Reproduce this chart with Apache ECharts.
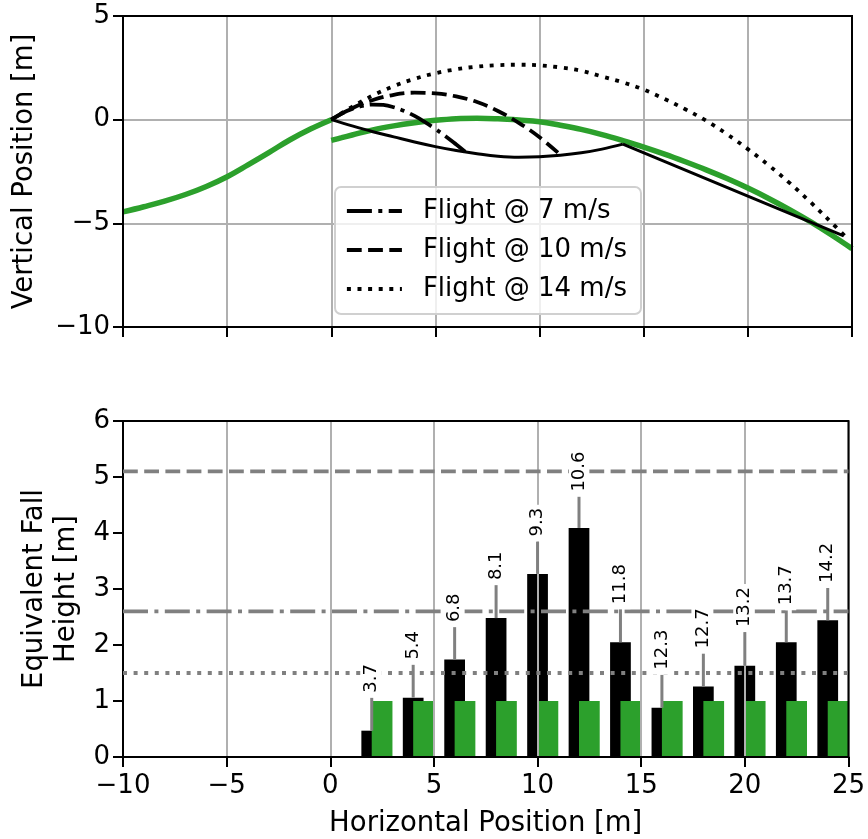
<!DOCTYPE html>
<html>
<head>
<meta charset="utf-8">
<title>fall height</title>
<style>
html, body { margin: 0; padding: 0; background: #fff; }
#chart { width: 868px; height: 839px; }
</style>
<script src="https://cdn.jsdelivr.net/npm/echarts@6/dist/echarts.min.js"></script>
</head>
<body>
<div id="chart"></div>
<script>
// terrain profile (green)
var takeoff = [[-10, -4.45], [-9, -4.2], [-8, -3.93], [-7, -3.61], [-6, -3.22], [-5, -2.75],
    [-4, -2.18], [-3, -1.59], [-2, -0.98], [-1, -0.45], [0, 0]];
var landing = [[0, -1.0], [0.5, -0.87], [1, -0.74], [2, -0.49], [3, -0.3], [4, -0.15], [5, -0.03],
    [6, 0.05], [7, 0.07], [8, 0.04], [9, -0.02], [10, -0.1], [11, -0.27], [12, -0.47], [13, -0.72],
    [14, -1.01], [15, -1.32], [16, -1.66], [17, -2.03], [18, -2.42], [19, -2.84], [20, -3.3],
    [21, -3.8], [22, -4.34], [23, -4.92], [24, -5.55], [25, -6.22]];
// knuckle curve + straight landing line (solid black)
var fallCurve = [[0, 0], [1, -0.3], [2, -0.58], [3, -0.83], [4, -1.08], [5, -1.3], [6, -1.49],
    [7, -1.64], [8, -1.76], [9, -1.81], [10, -1.79], [11, -1.72], [12, -1.6], [13, -1.42],
    [14, -1.18]];
var fallStraight = [[14, -1.18], [20, -3.69], [24.6, -5.6]];
// flight paths
var flight7 = [[0, 0], [0.5, 0.3], [1, 0.52], [1.5, 0.66], [2, 0.73], [2.5, 0.71], [3, 0.6],
    [3.5, 0.42], [4, 0.18], [4.5, -0.12], [5, -0.45], [5.5, -0.81], [6, -1.2], [6.55, -1.64]];
var flight10 = [[0, 0], [1, 0.55], [2, 0.95], [3, 1.2], [4, 1.3], [5, 1.27], [6, 1.12], [7, 0.85],
    [8, 0.42], [9, -0.15], [10, -0.85], [10.95, -1.65]];
var flight14 = [[0, 0], [1, 0.62], [2, 1.17], [3, 1.62], [4, 1.97], [5, 2.24], [6, 2.43], [7, 2.56],
    [8, 2.63], [9, 2.65], [10, 2.62], [11, 2.52], [12, 2.36], [13, 2.08], [14, 1.8], [15, 1.45],
    [16, 1.0], [17, 0.5], [18, -0.05], [19, -0.7], [20, -1.42], [21, -2.2], [22, -3.05],
    [23, -3.97], [24, -4.95], [24.65, -5.6]];
var flightNames = ['Flight @ 7 m/s', 'Flight @ 10 m/s', 'Flight @ 14 m/s'];

// bottom panel
var positions = [2, 4, 6, 8, 10, 12, 14, 16, 18, 20, 22, 24];
var fallHeight = [0.47, 1.06, 1.74, 2.48, 3.27, 4.09, 2.05, 0.88, 1.26, 1.63, 2.05, 2.44];
var fallHeightTop = [1.06, 1.65, 2.32, 3.07, 3.85, 4.65, 2.64, 1.47, 1.85, 2.23, 2.62, 3.02];
var speedLabels = ['3.7', '5.4', '6.8', '8.1', '9.3', '10.6', '11.8', '12.3', '12.7', '13.2', '13.7', '14.2'];
var safeHeight = [1, 1, 1, 1, 1, 1, 1, 1, 1, 1, 1, 1];
var refLevels = [5.1, 2.6, 1.5];

var FONT = 'DejaVu Sans';
var GRID_C = '#b0b0b0';
var GREY = '#808080';
var DASHED = [14.8, 6.4], DASHDOT = [25, 6.4, 4, 6.4], DOTTED = [4, 6.6];

function minus(v) { return v < 0 ? '\u2212' + (-v) : String(v); }

var blackBars = positions.map(function (x, i) { return [x, fallHeight[i]]; });
var greenBars = positions.map(function (x, i) { return [x, safeHeight[i]]; });
var errData = positions.map(function (x, i) { return [x, fallHeight[i], fallHeightTop[i], i]; });

function barRender(offset, color) {
    return function (params, api) {
        var x = api.value(0), h = api.value(1);
        var p0 = api.coord([x + offset, h]);
        var p1 = api.coord([x + offset + 1, 0]);
        return {
            type: 'rect',
            shape: { x: p0[0], y: p0[1], width: p1[0] - p0[0], height: p1[1] - p0[1] },
            style: { fill: color }
        };
    };
}

function refLine(v, dash) {
    return {
        type: 'line', xAxisIndex: 1, yAxisIndex: 1, z: 4, silent: true,
        data: [[-10, v], [25, v]], symbol: 'none',
        lineStyle: { color: GREY, width: 3.8, type: dash }
    };
}

function pathSeries(name, data, dash, width, color, z, smooth) {
    return {
        name: name, type: 'line', data: data, symbol: 'none', showSymbol: false, z: z,
        xAxisIndex: 0, yAxisIndex: 0, smooth: smooth,
        itemStyle: { color: color },
        lineStyle: { color: color, width: width, type: dash }
    };
}

function axisLine() { return { onZero: false, lineStyle: { color: '#000', width: 2 } }; }
function axisTick() { return { show: true, length: 10, lineStyle: { color: '#000', width: 2 } }; }
function tickLabel(fmt, margin) {
    return { fontFamily: FONT, fontSize: 26, color: '#000', margin: margin, formatter: fmt };
}

var chart = echarts.init(document.getElementById('chart'));
chart.setOption({
    animation: false,
    textStyle: { fontFamily: FONT },
    grid: [
        { left: 123, top: 16, width: 729, height: 311, show: true, z: 4, borderColor: '#000', borderWidth: 2, backgroundColor: 'transparent' },
        { left: 123, top: 421, width: 729, height: 336, show: true, z: 4, borderColor: '#000', borderWidth: 2, backgroundColor: 'transparent' }
    ],
    legend: {
        data: flightNames,
        orient: 'vertical',
        left: 335, top: 187,
        padding: [11, 14, 12, 10],
        itemGap: 13,
        itemWidth: 55, itemHeight: 20,
        itemStyle: { opacity: 0 },
        lineStyle: { width: 3.8 },
        backgroundColor: 'rgba(255,255,255,0.8)',
        borderColor: '#d0d0d0', borderWidth: 2, borderRadius: 6,
        textStyle: { fontFamily: FONT, fontSize: 26, color: '#000', padding: [0, 0, 0, 16] }
    },
    xAxis: [
        {
            type: 'value', gridIndex: 0, min: -10, max: 25, interval: 5,
            axisLine: axisLine(), axisTick: axisTick(),
            splitLine: { show: true, lineStyle: { color: GRID_C, width: 2 } },
            axisLabel: { show: false }
        },
        {
            type: 'value', gridIndex: 1, min: -10, max: 25, interval: 5, z: 3,
            axisLine: axisLine(), axisTick: axisTick(),
            splitLine: { show: true, lineStyle: { color: GRID_C, width: 2 } },
            axisLabel: tickLabel(minus, 16),
            name: 'Horizontal Position [m]', nameLocation: 'middle', nameGap: 53,
            nameTextStyle: { fontFamily: FONT, fontSize: 27.5, color: '#000' }
        }
    ],
    yAxis: [
        {
            type: 'value', gridIndex: 0, min: -10, max: 5, interval: 5,
            axisLine: axisLine(), axisTick: axisTick(),
            splitLine: { show: true, lineStyle: { color: GRID_C, width: 2 } },
            axisLabel: tickLabel(minus, 13),
            name: 'Vertical Position [m]', nameLocation: 'middle', nameGap: 84,
            nameTextStyle: { fontFamily: FONT, fontSize: 27.5, color: '#000' }
        },
        {
            type: 'value', gridIndex: 1, min: 0, max: 6, interval: 1,
            axisLine: axisLine(), axisTick: axisTick(),
            splitLine: { show: false },
            axisLabel: tickLabel(minus, 13),
            name: 'Equivalent Fall\nHeight [m]', nameLocation: 'middle', nameGap: 40,
            nameTextStyle: { fontFamily: FONT, fontSize: 27.5, color: '#000', lineHeight: 32, align: 'center' }
        }
    ],
    series: [
        pathSeries('terrain-a', takeoff, 'solid', 5.5, '#2ca02c', 2, 0.4),
        pathSeries('terrain-b', landing, 'solid', 5.5, '#2ca02c', 2, 0.4),
        pathSeries('fall-a', fallCurve, 'solid', 3, '#000', 3, 0.4),
        pathSeries('fall-b', fallStraight, 'solid', 3, '#000', 3, false),
        pathSeries(flightNames[0], flight7, DASHDOT, 3.8, '#000', 3, 0.4),
        pathSeries(flightNames[1], flight10, DASHED, 3.8, '#000', 3, 0.4),
        pathSeries(flightNames[2], flight14, DOTTED, 3.8, '#000', 3, 0.4),
        {
            type: 'custom', xAxisIndex: 1, yAxisIndex: 1, z: 2, silent: true,
            data: blackBars, renderItem: barRender(-0.5, '#000')
        },
        {
            type: 'custom', xAxisIndex: 1, yAxisIndex: 1, z: 2, silent: true,
            data: greenBars, renderItem: barRender(0, '#2ca02c')
        },
        refLine(refLevels[0], DASHED),
        refLine(refLevels[1], DASHDOT),
        refLine(refLevels[2], DOTTED),
        {
            type: 'custom', xAxisIndex: 1, yAxisIndex: 1, z: 5, silent: true,
            data: errData,
            renderItem: function (params, api) {
                var x = api.value(0);
                var p0 = api.coord([x, api.value(1)]);
                var p1 = api.coord([x, api.value(2)]);
                return {
                    type: 'group',
                    children: [
                        {
                            type: 'line',
                            shape: { x1: p0[0], y1: p0[1], x2: p1[0], y2: p1[1] },
                            style: { stroke: GREY, lineWidth: 3 }
                        },
                        {
                            type: 'text',
                            x: p1[0], y: p1[1], rotation: Math.PI / 2,
                            style: {
                                text: speedLabels[api.value(3)],
                                fontFamily: FONT, fontSize: 18, fill: '#000',
                                align: 'left', verticalAlign: 'middle',
                                backgroundColor: '#fff', padding: [1, 3, 1, 5]
                            }
                        }
                    ]
                };
            }
        }
    ]
});
</script>
</body>
</html>
